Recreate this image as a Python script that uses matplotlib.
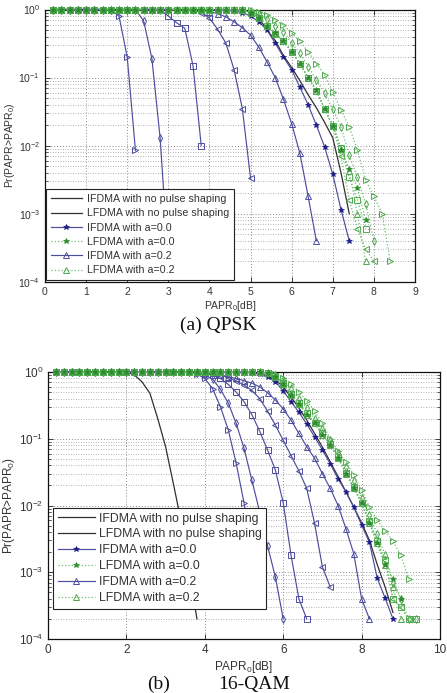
import numpy as np
import matplotlib
matplotlib.use('Agg')
import matplotlib.pyplot as plt
from matplotlib.ticker import LogLocator, NullFormatter

plt.rcParams['font.family'] = ['Liberation Sans', 'DejaVu Sans']
plt.rcParams['mathtext.fontset'] = 'custom'
plt.rcParams['mathtext.rm'] = 'Liberation Sans'
plt.rcParams['mathtext.it'] = 'Liberation Sans:italic'

# ---------------- data: QPSK (PAPR0 grid in dB, starting at 0.2) ----------------
qpsk_grid = [0.2, 0.4, 0.6, 0.8, 1.0, 1.2, 1.4, 1.6, 1.8, 2.0, 2.2, 2.4, 2.6, 2.8, 3.0,
             3.2, 3.4, 3.6, 3.8, 4.0, 4.2, 4.4, 4.6, 4.8, 5.0, 5.2, 5.4, 5.6, 5.8, 6.0,
             6.2, 6.4, 6.6, 6.8, 7.0, 7.2, 7.4, 7.6, 7.8, 8.0, 8.2, 8.4]

q_lf_nops = [1, 1, 1, 1, 1, 1, 1, 1, 1, 1, 1, 1, 1, 1, 1, 1, 1, 1, 1, 1, 1, 1, 1, 1,
             0.92, 0.76, 0.5, 0.35, 0.21, 0.14, 0.09, 0.056, 0.036, 0.022, 0.013, 0.004, 0.001]
q_if_a00 = [1, 1, 1, 1, 1, 1, 1, 1, 1, 1, 1, 1, 1, 1, 1, 1, 1, 1, 1, 1,
            0.99, 0.98, 0.95, 0.9, 0.8, 0.66, 0.5, 0.32, 0.2, 0.13, 0.072, 0.04, 0.02,
            0.0096, 0.0038, 0.00115, 0.0004]
q_if_a02 = [1, 1, 1, 1, 1, 1, 1, 1, 1, 1, 1, 1, 1, 1, 1, 1, 1, 1,
            0.97, 0.93, 0.87, 0.78, 0.66, 0.54, 0.42, 0.28, 0.17, 0.10, 0.048, 0.021,
            0.0077, 0.0018, 0.0004]
q_if_a04 = [1, 1, 1, 1, 1, 1, 1, 1, 1, 1, 1, 1, 1, 1, 1, 1, 1, 1,
            0.9, 0.75, 0.51, 0.32, 0.13, 0.035, 0.0033]
q_if_a06 = [1, 1, 1, 1, 1, 1, 1, 1, 1, 1, 1, 1, 1, 1,
            0.8, 0.64, 0.53, 0.15, 0.01]
q_if_a08 = [1, 1, 1, 1, 1, 1, 1, 1, 1, 1, 1,
            0.68, 0.19, 0.013, 0.0002]
q_if_a10 = [1, 1, 1, 1, 1, 1, 1, 1,
            0.8, 0.2, 0.0085]

q_lf_a00 = [1, 1, 1, 1, 1, 1, 1, 1, 1, 1, 1, 1, 1, 1, 1, 1, 1, 1, 1, 1, 1, 1,
            0.99, 0.97, 0.9, 0.76, 0.58, 0.45, 0.34, 0.24, 0.16, 0.10, 0.065, 0.035,
            0.0195, 0.0087, 0.0046, 0.0024, 0.0008]
q_lf_a02 = [1, 1, 1, 1, 1, 1, 1, 1, 1, 1, 1, 1, 1, 1, 1, 1, 1, 1, 1, 1, 1, 1,
            0.99, 0.97, 0.9, 0.75, 0.58, 0.45, 0.34, 0.24, 0.16, 0.10, 0.064, 0.035,
            0.02, 0.009, 0.0042, 0.001, 0.0002]
q_lf_a04 = [1, 1, 1, 1, 1, 1, 1, 1, 1, 1, 1, 1, 1, 1, 1, 1, 1, 1, 1, 1, 1, 1,
            0.99, 0.97, 0.9, 0.75, 0.58, 0.44, 0.34, 0.24, 0.16, 0.10, 0.064, 0.035,
            0.019, 0.007, 0.0016, 0.0006, 0.0003, 0.0002]
q_lf_a06 = [1, 1, 1, 1, 1, 1, 1, 1, 1, 1, 1, 1, 1, 1, 1, 1, 1, 1, 1, 1, 1, 1,
            0.99, 0.97, 0.9, 0.75, 0.58, 0.44, 0.34, 0.24, 0.16, 0.10, 0.064, 0.035,
            0.0195, 0.0093, 0.0034, 0.0016, 0.0006]
q_lf_a08 = [1, 1, 1, 1, 1, 1, 1, 1, 1, 1, 1, 1, 1, 1, 1, 1, 1, 1, 1, 1, 1, 1, 1,
            0.98, 0.94, 0.85, 0.72, 0.58, 0.47, 0.32, 0.23, 0.145, 0.093, 0.059, 0.034,
            0.019, 0.0072, 0.0034, 0.0014, 0.0004]
q_lf_a10 = [1, 1, 1, 1, 1, 1, 1, 1, 1, 1, 1, 1, 1, 1, 1, 1, 1, 1, 1, 1, 1, 1, 1,
            0.99, 0.97, 0.93, 0.83, 0.69, 0.59, 0.45, 0.34, 0.24, 0.16, 0.11, 0.062,
            0.033, 0.019, 0.0085, 0.0031, 0.0018, 0.001, 0.0002]

# ---------------- data: 16-QAM ----------------
qam_grid = [0.2, 0.4, 0.6, 0.8, 1.0, 1.2, 1.4, 1.6, 1.8, 2.0, 2.2, 2.4, 2.6, 2.8, 3.0,
            3.2, 3.4, 3.6, 3.8, 4.0, 4.2, 4.4, 4.6, 4.8, 5.0, 5.2, 5.4, 5.6, 5.8, 6.0,
            6.2, 6.4, 6.6, 6.8, 7.0, 7.2, 7.4, 7.6, 7.8, 8.0, 8.2, 8.4, 8.6, 8.8, 9.0,
            9.2, 9.4]

m_if_nops = [1, 1, 1, 1, 1, 1, 1, 1, 1, 1,
             0.91, 0.71, 0.48, 0.2, 0.076, 0.021, 0.0056, 0.001, 0.0002]
m_lf_nops = [1, 1, 1, 1, 1, 1, 1, 1, 1, 1, 1, 1, 1, 1, 1, 1, 1, 1, 1, 1, 1, 1, 1, 1,
             0.99, 0.98, 0.95, 0.87, 0.76, 0.6, 0.42, 0.29, 0.19, 0.12, 0.075, 0.045,
             0.027, 0.016, 0.0095, 0.0055, 0.003, 0.0013, 0.0006, 0.00025]
m_if_a00 = [1, 1, 1, 1, 1, 1, 1, 1, 1, 1, 1, 1, 1, 1, 1, 1, 1, 1, 1, 1, 1, 1, 1, 1,
            0.99, 0.97, 0.92, 0.84, 0.72, 0.52, 0.36, 0.25, 0.166, 0.107, 0.068, 0.042,
            0.025, 0.016, 0.0095, 0.0051, 0.0028, 0.00081, 0.00041, 0.0002]
m_if_a02 = [1, 1, 1, 1, 1, 1, 1, 1, 1, 1, 1, 1, 1, 1, 1, 1, 1, 1, 1,
            0.98, 0.95, 0.9, 0.85, 0.8, 0.74, 0.68, 0.6, 0.49, 0.38, 0.28, 0.19, 0.12,
            0.076, 0.051, 0.03, 0.018, 0.01, 0.0045, 0.0019, 0.0004, 0.0002]
m_if_a04 = [1, 1, 1, 1, 1, 1, 1, 1, 1, 1, 1, 1, 1, 1, 1, 1, 1, 1, 1,
            0.98, 0.95, 0.9, 0.83, 0.73, 0.64, 0.53, 0.4, 0.26, 0.16, 0.095, 0.056,
            0.033, 0.018, 0.0054, 0.0012, 0.0006]
m_if_a06 = [1, 1, 1, 1, 1, 1, 1, 1, 1, 1, 1, 1, 1, 1, 1, 1, 1, 1, 0.99,
            0.95, 0.9, 0.8, 0.65, 0.5, 0.36, 0.23, 0.13, 0.068, 0.034, 0.011, 0.0018,
            0.0004, 0.0002]
m_if_a08 = [1, 1, 1, 1, 1, 1, 1, 1, 1, 1, 1, 1, 1, 1, 1, 1, 1, 1, 0.97,
            0.9, 0.78, 0.55, 0.34, 0.17, 0.072, 0.024, 0.008, 0.0025, 0.00085, 0.0002]
m_if_a10 = [1, 1, 1, 1, 1, 1, 1, 1, 1, 1, 1, 1, 1, 1, 1, 1, 1, 1, 0.93,
            0.8, 0.56, 0.3, 0.135, 0.043, 0.011, 0.0025, 0.0005]

m_lf_a00 = [1, 1, 1, 1, 1, 1, 1, 1, 1, 1, 1, 1, 1, 1, 1, 1, 1, 1, 1, 1, 1, 1, 1, 1,
            1, 1, 0.99, 0.95, 0.85, 0.66, 0.46, 0.33, 0.23, 0.17, 0.115, 0.081, 0.051,
            0.03, 0.018, 0.011, 0.0054, 0.0027, 0.0013, 0.0008, 0.0004]
m_lf_a02 = [1, 1, 1, 1, 1, 1, 1, 1, 1, 1, 1, 1, 1, 1, 1, 1, 1, 1, 1, 1, 1, 1, 1, 1,
            1, 1, 0.99, 0.95, 0.85, 0.66, 0.46, 0.33, 0.23, 0.17, 0.115, 0.081, 0.051,
            0.03, 0.018, 0.011, 0.0054, 0.0027, 0.0013, 0.0006, 0.0002]
m_lf_a04 = [1, 1, 1, 1, 1, 1, 1, 1, 1, 1, 1, 1, 1, 1, 1, 1, 1, 1, 1, 1, 1, 1, 1, 1,
            1, 1, 0.99, 0.95, 0.86, 0.68, 0.47, 0.34, 0.24, 0.17, 0.12, 0.083, 0.053,
            0.031, 0.019, 0.011, 0.0058, 0.0029, 0.0015, 0.0004, 0.0003, 0.0002]
m_lf_a06 = [1, 1, 1, 1, 1, 1, 1, 1, 1, 1, 1, 1, 1, 1, 1, 1, 1, 1, 1, 1, 1, 1, 1, 1,
            1, 1, 0.99, 0.95, 0.86, 0.68, 0.47, 0.34, 0.24, 0.17, 0.12, 0.083, 0.053,
            0.031, 0.019, 0.011, 0.0058, 0.0029, 0.0015, 0.0004, 0.0003, 0.0002, 0.0002]
m_lf_a08 = [1, 1, 1, 1, 1, 1, 1, 1, 1, 1, 1, 1, 1, 1, 1, 1, 1, 1, 1, 1, 1, 1, 1, 1,
            1, 1, 0.99, 0.97, 0.9, 0.75, 0.55, 0.4, 0.29, 0.2, 0.14, 0.095, 0.062,
            0.038, 0.023, 0.013, 0.0072, 0.0037, 0.0018, 0.0007, 0.0004, 0.0002, 0.0002]
m_lf_a10 = [1, 1, 1, 1, 1, 1, 1, 1, 1, 1, 1, 1, 1, 1, 1, 1, 1, 1, 1, 1, 1, 1, 1, 1,
            1, 1, 0.99, 0.98, 0.93, 0.82, 0.66, 0.5, 0.37, 0.26, 0.17, 0.1, 0.065,
            0.045, 0.029, 0.017, 0.0095, 0.006, 0.0042, 0.0029, 0.0018, 0.0008]

legend_labels = ['IFDMA with no pulse shaping', 'LFDMA with no pulse shaping',
                 'IFDMA with a=0.0', 'LFDMA with a=0.0',
                 'IFDMA with a=0.2', 'LFDMA with a=0.2']

# ---------------- styles ----------------
BLUE = '#4d4d9e'
BLUE_STAR = '#1c1c88'
GREEN = '#6cbf6c'
GREEN_MK = '#4fa84f'
GREEN_STAR = '#2a8a2a'
BLACK = '#303030'
TXT = '#333333'


def draw_panel(ax, grid, lf_nops, if_nops, if_curves, lf_curves, ms, fs, leg_fs,
               legend_kw):
    h = {}
    ln, = ax.plot(grid[:len(if_nops)], if_nops, '-', color=BLACK, lw=0.9, zorder=2)
    h[0] = ln
    ln, = ax.plot(grid[:len(lf_nops)], lf_nops, '-', color=BLACK, lw=0.9, zorder=2)
    h[1] = ln
    for key, (ys, mk) in if_curves.items():
        if mk == '*':
            ln, = ax.plot(grid[:len(ys)], ys, '-', color=BLUE, lw=0.85, marker='*',
                          ms=ms, mfc=BLUE_STAR, mec=BLUE_STAR, mew=0.5,
                          zorder=3, clip_on=False)
        else:
            ln, = ax.plot(grid[:len(ys)], ys, '-', color=BLUE, lw=0.85, marker=mk,
                          ms=ms, mfc='none', mec=BLUE, mew=0.7, zorder=3,
                          clip_on=False)
        if key == 'a00':
            h[2] = ln
        if key == 'a02':
            h[4] = ln
    for key, (ys, mk) in lf_curves.items():
        if mk == '*':
            ln, = ax.plot(grid[:len(ys)], ys, ':', color=GREEN, lw=0.9, marker='*',
                          ms=ms, mfc=GREEN_STAR, mec=GREEN_STAR, mew=0.5,
                          zorder=4, clip_on=False)
        else:
            ln, = ax.plot(grid[:len(ys)], ys, ':', color=GREEN, lw=0.9, marker=mk,
                          ms=ms, mfc='none', mec=GREEN_MK, mew=0.7, zorder=4,
                          clip_on=False)
        if key == 'a00':
            h[3] = ln
        if key == 'a02':
            h[5] = ln

    ax.set_yscale('log')
    ax.set_ylim(1e-4, 1)
    ax.yaxis.set_major_locator(LogLocator(base=10, numticks=10))
    ax.yaxis.set_minor_locator(LogLocator(base=10, subs=np.arange(2, 10), numticks=10))
    ax.yaxis.set_minor_formatter(NullFormatter())
    ax.grid(True, which='major', axis='both', linestyle=(0, (1, 2)), color='#8a8a8a',
            lw=0.7)
    ax.grid(True, which='minor', axis='y', linestyle=(0, (1, 2)), color='#9a9a9a',
            lw=0.6)
    ax.tick_params(which='both', direction='in', top=True, right=True,
                   labelsize=fs, labelcolor=TXT, color='#222222')
    ax.tick_params(which='major', length=3.5, width=0.6)
    ax.tick_params(which='minor', length=2, width=0.5)
    for sp in ax.spines.values():
        sp.set_color('#111111')
        sp.set_linewidth(0.9)
    ax.set_xlabel(r'PAPR$_0$[dB]', fontsize=fs, color=TXT, labelpad=2)
    ax.set_ylabel(r'Pr(PAPR>PAPR$_0$)', fontsize=fs, color=TXT, labelpad=1)
    handles = [h[i] for i in range(6)]
    leg = ax.legend(handles, legend_labels, loc='lower left', fontsize=leg_fs,
                    numpoints=1, fancybox=False, framealpha=1, borderaxespad=0,
                    **legend_kw)
    leg.get_frame().set_edgecolor('#222222')
    leg.get_frame().set_linewidth(0.8)
    leg.set_zorder(10)
    for t in leg.get_texts():
        t.set_color(TXT)
    return ax


fig = plt.figure(figsize=(4.47, 6.93), dpi=100)

ax1 = fig.add_axes([45 / 447, 1 - 281.7 / 693, 370 / 447, 272.2 / 693])
draw_panel(
    ax1, qpsk_grid, q_lf_nops, [],
    {'a10': (q_if_a10, '>'), 'a08': (q_if_a08, 'd'), 'a06': (q_if_a06, 's'),
     'a04': (q_if_a04, '<'), 'a02': (q_if_a02, '^'), 'a00': (q_if_a00, '*')},
    {'a10': (q_lf_a10, '>'), 'a08': (q_lf_a08, 'd'), 'a06': (q_lf_a06, 's'),
     'a04': (q_lf_a04, '<'), 'a02': (q_lf_a02, '^'), 'a00': (q_lf_a00, '*')},
    ms=3.8, fs=7.5, leg_fs=7.65,
    legend_kw=dict(bbox_to_anchor=(0.002, 0.006), handlelength=3.0,
                   handletextpad=0.4, labelspacing=0.4, borderpad=0.45))
ax1.set_xlim(0, 9)
ax1.set_xticks(range(0, 10))

ax2 = fig.add_axes([48 / 447, 1 - 639 / 693, 392 / 447, 267 / 693])
draw_panel(
    ax2, qam_grid, m_lf_nops, m_if_nops,
    {'a10': (m_if_a10, '>'), 'a08': (m_if_a08, 'd'), 'a06': (m_if_a06, 's'),
     'a04': (m_if_a04, '<'), 'a02': (m_if_a02, '^'), 'a00': (m_if_a00, '*')},
    {'a10': (m_lf_a10, '>'), 'a08': (m_lf_a08, 'd'), 'a06': (m_lf_a06, 's'),
     'a04': (m_lf_a04, '<'), 'a02': (m_lf_a02, '^'), 'a00': (m_lf_a00, '*')},
    ms=4.2, fs=8.5, leg_fs=8.85,
    legend_kw=dict(bbox_to_anchor=(0.013, 0.112), handlelength=3.0,
                   handletextpad=0.3, labelspacing=0.32, borderpad=0.4))
ax2.set_xlim(0, 10)
ax2.set_xticks(range(0, 11, 2))

fig.text(218 / 447, 1 - 325 / 693, '(a) QPSK', family='Liberation Serif',
         fontsize=14, ha='center', va='center', color='#111111')
fig.text(158.5 / 447, 1 - 684 / 693, '(b)', family='Liberation Serif',
         fontsize=14, ha='center', va='center', color='#111111')
fig.text(254 / 447, 1 - 684 / 693, '16-QAM', family='Liberation Serif',
         fontsize=14, ha='center', va='center', color='#111111')

fig.savefig('out.png', dpi=100)
